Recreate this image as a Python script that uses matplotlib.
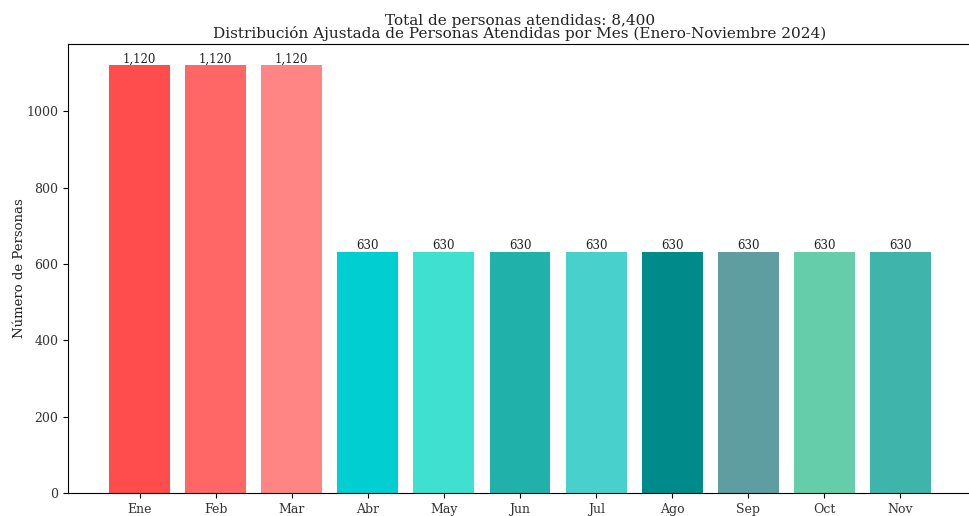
import matplotlib
matplotlib.use("Agg")
from matplotlib import pyplot as plt

meses = ['Ene', 'Feb', 'Mar', 'Abr', 'May', 'Jun', 'Jul', 'Ago', 'Sep', 'Oct', 'Nov']
personas = [1120, 1120, 1120, 630, 630, 630, 630, 630, 630, 630, 630]
colores = ['#FF4C4C', '#FF6666', '#FF8585', '#00CED1', '#40E0D0', '#20B2AA',
           '#48D1CC', '#008B8B', '#5F9EA0', '#66CDAA', '#3EB4AA']

plt.rcParams['font.family'] = ['DejaVu Serif']
plt.rcParams['text.color'] = '#222222'
plt.rcParams['xtick.labelcolor'] = '#333333'
plt.rcParams['ytick.labelcolor'] = '#333333'
plt.rcParams['axes.labelcolor'] = '#222222'

fig = plt.figure(figsize=(9.69, 5.16), dpi=100)
ax = fig.add_axes([68 / 969, 23 / 516, 904 / 969, 449 / 516])

bars = ax.bar(meses, personas, color=colores, width=0.8)
for b, v in zip(bars, personas):
    ax.text(b.get_x() + b.get_width() / 2, v, f'{v:,}', ha='center', va='bottom', fontsize=8.5)

ax.set_ylabel('Número de Personas', fontsize=9.5, labelpad=0)
ax.set_title('Total de personas atendidas: 8,400\n'
             'Distribución Ajustada de Personas Atendidas por Mes (Enero-Noviembre 2024)',
             fontsize=11, linespacing=0.85, pad=4)
ax.tick_params(labelsize=9)

fig.savefig('out.png', dpi=100)
